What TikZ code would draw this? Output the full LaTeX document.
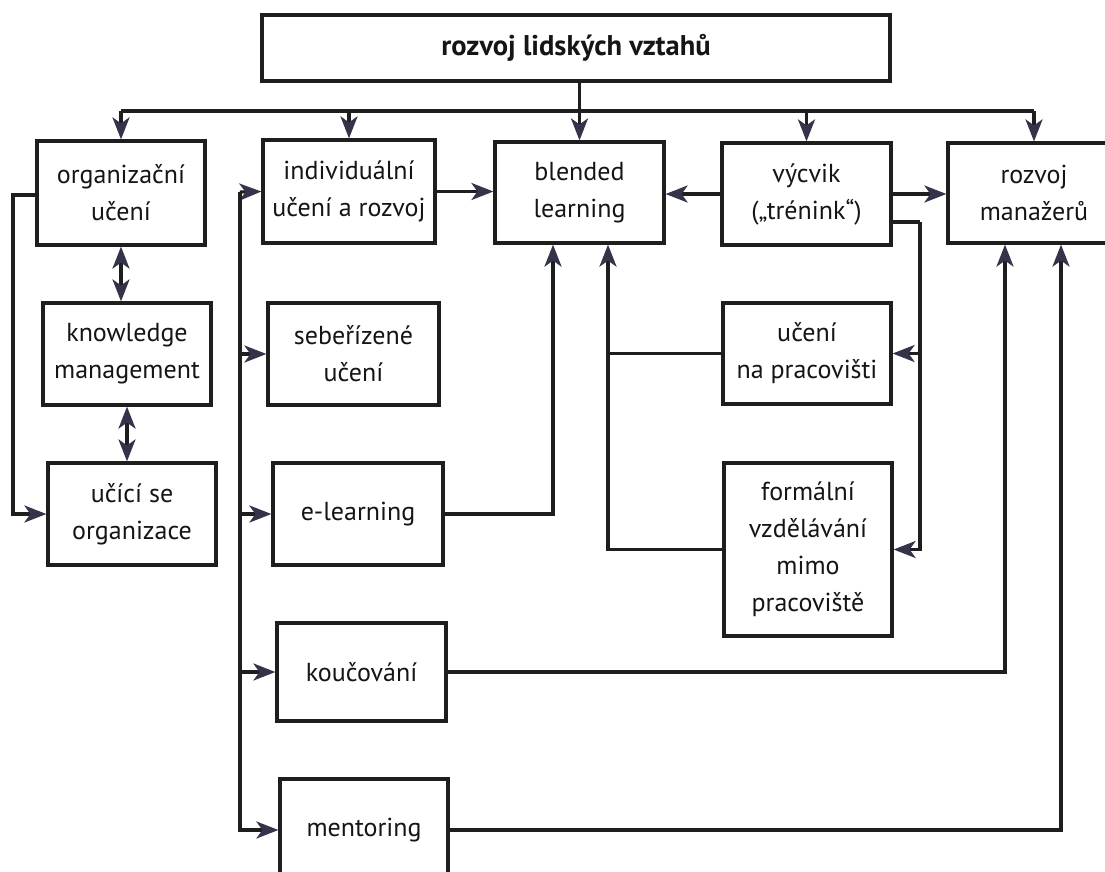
\documentclass[tikz,border=0pt]{standalone}
\usepackage{fontspec}
\setmainfont{PT Sans}
\usetikzlibrary{arrows.meta,calc}
\definecolor{linec}{HTML}{1E1E1E}
\definecolor{arrc}{HTML}{33334A}
\definecolor{txtc}{HTML}{151515}
\begin{document}
\begin{tikzpicture}[x=1pt,y=-1pt,
  box/.style={draw=linec,line width=3.2pt,inner sep=0pt,align=center,text=txtc,
     font=\fontsize{26}{37}\selectfont},
  conn/.style={draw=linec,line width=3.1pt},
  >={Stealth[length=22pt,width=17pt,inset=6pt,color=arrc]}]
\useasboundingbox (0,0) rectangle (1105,871);
\clip (0,0) rectangle (1105,871);
\fill[white] (0,0) rectangle (1105,871);
% nodes
\node[box,minimum width=628pt,minimum height=66pt,font=\fontsize{28.5}{32}\selectfont\bfseries] (top) at (576,48) {rozvoj lidských vztahů};
\node[box,minimum width=168pt,minimum height=104pt] (org) at (121,193) {organizační\\učení};
\node[box,minimum width=172pt,minimum height=103pt] (ind) at (349,191.5) {individuální\\učení a rozvoj};
\node[box,minimum width=169pt,minimum height=101pt] (bl) at (579.5,192.5) {blended\\learning};
\node[box,minimum width=169pt,minimum height=102pt] (vy) at (806.5,194) {výcvik\\(„trénink“)};
\node[box,minimum width=172pt,minimum height=100pt] (rm) at (1034,193) {rozvoj\\manažerů};
\node[box,minimum width=168pt,minimum height=102pt] (km) at (127,354) {knowledge\\management};
\node[box,minimum width=168pt,minimum height=102pt] (uso) at (132,514) {učící se\\organizace};
\node[box,minimum width=171pt,minimum height=102pt] (seb) at (353.5,354) {sebeřízené\\učení};
\node[box,minimum width=170pt,minimum height=102pt] (el) at (358,514) {e-learning};
\node[box,minimum width=168pt,minimum height=101pt] (unp) at (807,353.5) {učení\\na pracovišti};
\node[box,minimum width=168pt,minimum height=173pt] (fv) at (808,549.5) {formální\\vzdělávání\\mimo\\pracoviště};
\node[box,minimum width=169pt,minimum height=98pt] (ko) at (361.5,672) {koučování};
\node[box,minimum width=168pt,minimum height=102pt] (me) at (364,830) {mentoring};
% helper coordinates
\coordinate (bus) at (0,111);
\coordinate (loopL) at (13,195);
\coordinate (vL) at (240,192);
\coordinate (vyR) at (920,222);
\coordinate (blA) at (553,0);
\coordinate (blB) at (608,0);
\coordinate (rmA) at (1005,0);
\coordinate (rmB) at (1061,0);
% top distribution
\draw[conn,->] (top.south -| bl.north) -- (bl.north);
\draw[conn] (org.north |- bus) -- (rm.north |- bus);
\draw[conn,->] (org.north |- bus) -- (org.north);
\draw[conn,->] (ind.north |- bus) -- (ind.north);
\draw[conn,->] (vy.north |- bus) -- (vy.north);
\draw[conn,->] (rm.north |- bus) -- (rm.north);
% row 1 horizontals
\draw[conn,->] (ind.east) -- (ind.east -| bl.west);
\draw[conn,->] (vy.west) -- (vy.west -| bl.east);
\draw[conn,->] (vy.east) -- (vy.east -| rm.west);
% left column
\draw[conn,<->] (org.south) -- (org.south |- km.north);
\draw[conn,<->] (km.south) -- (km.south |- uso.north);
\draw[conn,->] (org.west |- loopL) -- (loopL) |- (uso.west);
% second column
\draw[conn,->] (vL) -- (ind.west);
\draw[conn,->] (vL) |- (me.west);
\draw[conn,->] (vL |- seb.west) -- (seb.west);
\draw[conn,->] (vL |- el.west) -- (el.west);
\draw[conn,->] (vL |- ko.west) -- (ko.west);
% to blended learning
\draw[conn,->] (el.east) -| (bl.south -| blA);
\draw[conn,->] (fv.west) -| (bl.south -| blB);
\draw[conn] (unp.west) -- (unp.west -| blB);
% from vycvik
\draw[conn] (vy.east |- vyR) -- (vyR);
\draw[conn,->] (vyR) |- (fv.east);
\draw[conn,->] (vyR |- unp.east) -- (unp.east);
% to rozvoj manazeru
\draw[conn,->] (ko.east) -| (rm.south -| rmA);
\draw[conn,->] (me.east) -| (rm.south -| rmB);
\end{tikzpicture}
\end{document}
